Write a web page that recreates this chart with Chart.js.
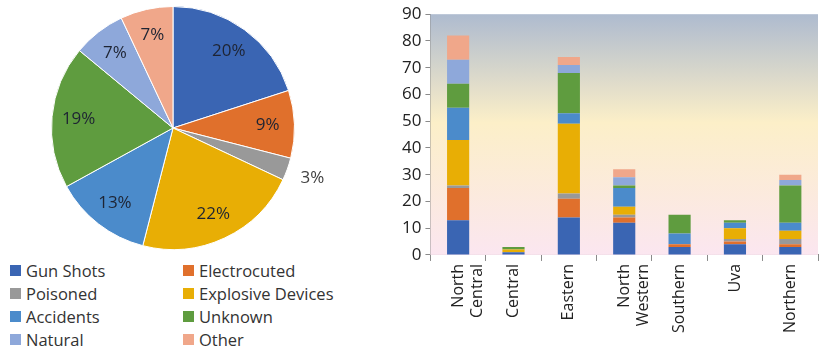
<!DOCTYPE html>
<html>
<head>
<meta charset="utf-8">
<script src="https://cdn.jsdelivr.net/npm/chart.js@4.4.1/dist/chart.umd.min.js"></script>
<style>
  html, body { margin: 0; padding: 0; background: #fff; }
  #wrap { position: relative; width: 822px; height: 354px; font-family: "Open Sans", sans-serif; }
  #pieBox { position: absolute; left: 0; top: 0; width: 346px; height: 256px; }
  #barBox { position: absolute; left: 380px; top: 0; width: 442px; height: 354px; }
  #legend { position: absolute; left: 10px; top: 261px; width: 345px; display: grid;
    grid-template-columns: 173px 172px; row-gap: 4px; font-size: 16.5px; color: #333; }
  #legend div { display: flex; align-items: center; height: 19px; white-space: nowrap; }
  #legend span.sw { display: inline-block; width: 11px; height: 11px; margin-right: 5px; }
</style>
</head>
<body>
<div id="wrap">
  <div id="pieBox"><canvas id="pieChart"></canvas></div>
  <div id="legend"></div>
  <div id="barBox"><canvas id="barChart"></canvas></div>
</div>
<script>
const causes = ["Gun Shots", "Electrocuted", "Poisoned", "Explosive Devices",
  "Accidents", "Unknown", "Natural", "Other"];
const causeColors = ["#3a65b3", "#e0702c", "#999999", "#e8ae05",
  "#4b8bcb", "#5f9c3f", "#8ea8da", "#f0a78a"];

// share of each cause (%), as printed on the pie
const pieShares = [20, 9, 3, 22, 13, 19, 7, 7];

const regions = [["North", "Central"], "Central", "Eastern", ["North", "Western"],
  "Southern", "Uva", "Northern"];
const gunShots     = [13, 1, 14, 12, 3, 4, 3];
const electrocuted = [12, 0, 7, 2, 1, 1, 1];
const poisoned     = [1, 0, 2, 1, 0, 1, 2];
const explosive    = [17, 1, 26, 3, 0, 4, 3];
const accidents    = [12, 0, 4, 7, 4, 2, 3];
const unknown      = [9, 1, 15, 1, 7, 1, 14];
const natural      = [9, 0, 3, 3, 0, 0, 2];
const other        = [9, 0, 3, 3, 0, 0, 2];
const yTicks = [0, 10, 20, 30, 40, 50, 60, 70, 80, 90];

const seriesList = [gunShots, electrocuted, poisoned, explosive, accidents, unknown, natural, other];

// legend under the pie, two columns like the original
const legendEl = document.getElementById("legend");
causes.forEach((c, i) => {
  const d = document.createElement("div");
  d.innerHTML = '<span class="sw" style="background:' + causeColors[i] + '"></span>' + c;
  legendEl.appendChild(d);
});

const pieLabels = {
  id: "pieLabels",
  afterDatasetsDraw(chart) {
    const ctx = chart.ctx;
    const meta = chart.getDatasetMeta(0);
    ctx.save();
    ctx.font = "17px 'Open Sans'";
    ctx.textAlign = "center";
    ctx.textBaseline = "middle";
    meta.data.forEach((arc, i) => {
      const p = arc.getProps(["x", "y", "startAngle", "endAngle", "outerRadius"], true);
      const mid = (p.startAngle + p.endAngle) / 2;
      const outside = pieShares[i] < 5;
      const r = p.outerRadius * (outside ? 1.22 : 0.78);
      ctx.fillStyle = outside ? "#404040" : "#1e2433";
      ctx.fillText(pieShares[i] + "%", p.x + Math.cos(mid) * r, p.y + Math.sin(mid) * r);
    });
    ctx.restore();
  },
};

new Chart(document.getElementById("pieChart"), {
  type: "pie",
  data: {
    labels: causes,
    datasets: [{
      data: pieShares,
      backgroundColor: causeColors,
      borderColor: "#ffffff",
      borderWidth: 1,
    }],
  },
  options: {
    responsive: true,
    maintainAspectRatio: false,
    animation: false,
    layout: { padding: 6 },
    plugins: { legend: { display: false }, tooltip: { enabled: false } },
  },
  plugins: [pieLabels],
});

// soft blue -> cream -> pink fill behind the bars
const plotBackground = {
  id: "plotBackground",
  beforeDatasetsDraw(chart) {
    const { ctx, chartArea: a } = chart;
    const g = ctx.createLinearGradient(0, a.top, 0, a.bottom);
    g.addColorStop(0, "#aebbcf");
    g.addColorStop(0.45, "#fcefc8");
    g.addColorStop(1, "#fbe6f0");
    ctx.save();
    ctx.fillStyle = g;
    ctx.fillRect(a.left, a.top, a.right - a.left, a.bottom - a.top);
    ctx.restore();
  },
};

new Chart(document.getElementById("barChart"), {
  type: "bar",
  data: {
    labels: regions,
    datasets: seriesList.map((s, i) => ({
      label: causes[i],
      data: s,
      backgroundColor: causeColors[i],
      borderWidth: 0,
      barPercentage: 0.5,
      categoryPercentage: 0.8,
    })),
  },
  options: {
    responsive: true,
    maintainAspectRatio: false,
    animation: false,
    layout: { padding: { top: 4, right: 4, bottom: 18, left: 18 } },
    plugins: { legend: { display: false }, tooltip: { enabled: false } },
    scales: {
      x: {
        stacked: true,
        border: { color: "#8a8a8a" },
        grid: { drawOnChartArea: false, color: "#8a8a8a", tickLength: 6 },
        ticks: {
          color: "#222",
          font: { family: "Open Sans", size: 16 },
          minRotation: 90,
          maxRotation: 90,
        },
      },
      y: {
        stacked: true,
        min: 0,
        max: 90,
        afterBuildTicks: (axis) => { axis.ticks = yTicks.map((v) => ({ value: v })); },
        border: { color: "#8a8a8a" },
        grid: { drawOnChartArea: false, color: "#8a8a8a", tickLength: 5 },
        ticks: { color: "#222", font: { family: "Open Sans", size: 17 }, padding: 4 },
      },
    },
  },
  plugins: [plotBackground],
});
</script>
</body>
</html>
